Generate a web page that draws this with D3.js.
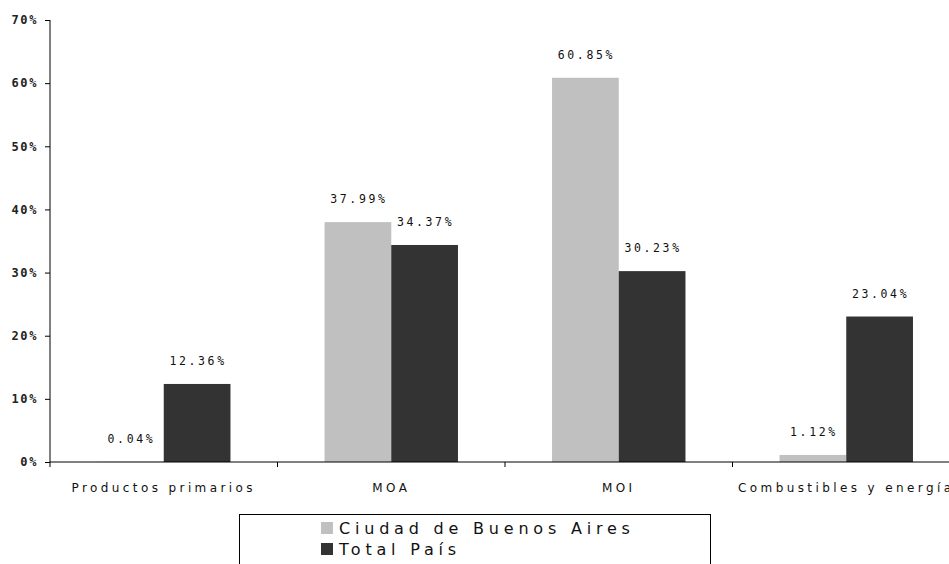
<!DOCTYPE html>
<html>
<head>
<meta charset="utf-8">
<script src="https://cdn.jsdelivr.net/npm/d3@7"></script>
<style>
  html, body { margin: 0; padding: 0; background: #fff; }
  svg { display: block; }
</style>
</head>
<body>
<svg id="chart" width="949" height="564"></svg>
<script>
// Export structure by product group (% share)
const categories = ["Productos primarios", "MOA", "MOI", "Combustibles y energía"];
const seriesNames = ["Ciudad de Buenos Aires", "Total País"];
const caba = [0.04, 37.99, 60.85, 1.12];
const totalPais = [12.36, 34.37, 30.23, 23.04];
const yTicks = [0, 10, 20, 30, 40, 50, 60, 70];
const colors = ["#c0c0c0", "#333333"];

const svg = d3.select("#chart");
const plotLeft = 50, plotRight = 960, plotTop = 20, plotBottom = 462;

const x0 = d3.scaleBand().domain(categories).range([plotLeft, plotRight]).paddingInner(0).paddingOuter(0);
const x1 = d3.scaleBand().domain(seriesNames).range([0, x0.bandwidth()]).paddingInner(0).paddingOuter(0.705);
const y = d3.scaleLinear().domain([0, 70]).range([plotBottom, plotTop]);

const series = [caba, totalPais];

// bars and value labels
categories.forEach((c, i) => {
  series.forEach((vals, s) => {
    const v = vals[i];
    const bx = x0(c) + x1(seriesNames[s]);
    svg.append("rect")
      .attr("x", bx)
      .attr("y", y(v))
      .attr("width", x1.bandwidth())
      .attr("height", plotBottom - y(v))
      .attr("fill", colors[s]);
    svg.append("text")
      .attr("x", bx + x1.bandwidth() / 2 + 1)
      .attr("y", y(v) - 19)
      .attr("text-anchor", "middle")
      .attr("font-family", "DejaVu Sans Mono")
      .attr("font-size", 11.5)
      .attr("letter-spacing", 2.6)
      .attr("fill", "#111")
      .text(v.toFixed(2) + "%");
  });
});

// y axis
const yAxis = d3.axisLeft(y).tickValues(yTicks).tickFormat(d => d + "%").tickSize(5).tickSizeOuter(0);
const gy = svg.append("g").attr("transform", `translate(${plotLeft},0)`).call(yAxis);
gy.select(".domain").attr("stroke", "#000").attr("d", `M0,${plotTop}V${plotBottom}`);
gy.selectAll(".tick line").attr("stroke", "#000");
gy.selectAll(".tick text")
  .attr("x", -12)
  .attr("font-family", "DejaVu Sans Mono")
  .attr("font-weight", "bold")
  .attr("font-size", 12)
  .attr("letter-spacing", 1.6)
  .attr("fill", "#222");

// x axis
const gx = svg.append("g").attr("transform", `translate(0,${plotBottom})`);
gx.append("line").attr("x1", plotLeft).attr("x2", 949).attr("y1", 0).attr("y2", 0).attr("stroke", "#000");
const boundaries = categories.map(c => x0(c));
gx.selectAll("line.tk").data(boundaries).join("line")
  .attr("class", "tk")
  .attr("x1", d => d).attr("x2", d => d)
  .attr("y1", 0).attr("y2", 5)
  .attr("stroke", "#000");
gx.selectAll("text").data(categories).join("text")
  .attr("x", d => x0(d) + x0.bandwidth() / 2)
  .attr("y", 30)
  .attr("text-anchor", "middle")
  .attr("font-family", "DejaVu Sans")
  .attr("font-size", 12)
  .attr("letter-spacing", 3.4)
  .attr("fill", "#111")
  .text(d => d);

// legend
const lg = svg.append("g");
lg.append("rect").attr("x", 239.5).attr("y", 514.5).attr("width", 471).attr("height", 60)
  .attr("fill", "none").attr("stroke", "#000");
seriesNames.forEach((n, i) => {
  lg.append("rect").attr("x", 321).attr("y", 522 + i * 21).attr("width", 12).attr("height", 12).attr("fill", colors[i]);
  lg.append("text").attr("x", 339).attr("y", 534 + i * 21)
    .attr("font-family", "DejaVu Sans")
    .attr("font-size", 16)
    .attr("letter-spacing", 4.8)
    .attr("fill", "#111")
    .text(n);
});
</script>
</body>
</html>
